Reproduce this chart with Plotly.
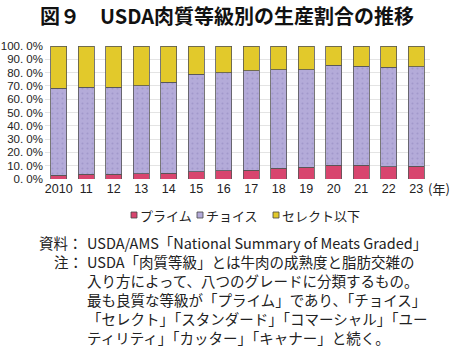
import plotly.graph_objects as go

years = ["2010", "11", "12", "13", "14", "15", "16", "17", "18", "19", "20", "21", "22", "23"]
prime = [3.0, 3.7, 3.5, 4.0, 4.2, 5.5, 6.2, 6.5, 8.2, 8.7, 10.5, 10.2, 9.2, 9.7]
choice = [65.1, 65.2, 65.4, 66.1, 68.6, 73.1, 73.6, 74.8, 74.1, 73.6, 75.0, 74.4, 74.9, 74.6]
select_below = [31.9, 31.1, 31.1, 29.9, 27.2, 21.4, 20.2, 18.7, 17.7, 17.7, 14.5, 15.4, 15.9, 15.7]
series_names = ["プライム", "チョイス", "セレクト以下"]
y_ticks = [0, 10, 20, 30, 40, 50, 60, 70, 80, 90, 100]
y_tick_labels = ["0. 0%", "10. 0%", "20. 0%", "30. 0%", "40. 0%", "50. 0%", "60. 0%",
                 "70. 0%", "80. 0%", "90. 0%", "100. 0%"]
colors = ["#D8456E", "#B4ABD9", "#E2C92B"]

FONT = "Noto Sans CJK JP"
NUMFONT = "Liberation Sans"
line = dict(color="#555555", width=0.8)

# plot area in pixels
L, R, T, B = 45, 430, 46, 179
W, H = 450, 357


def px(x):
    return (x - L) / (R - L)


def py(y):
    return (B - y) / (B - T)


fig = go.Figure()
fig.add_bar(x=years, y=prime, name=series_names[0],
            marker=dict(color=colors[0], line=line))
fig.add_bar(x=years, y=choice, name=series_names[1],
            marker=dict(color=colors[1], line=line,
                        pattern=dict(shape=".", fgcolor="#8F86BE", size=5, solidity=0.15)))
fig.add_bar(x=years, y=select_below, name=series_names[2],
            marker=dict(color=colors[2], line=line))

fig.update_layout(
    barmode="stack",
    bargap=0.42,
    width=W, height=H,
    margin=dict(l=L, r=W - R, t=T, b=H - B),
    paper_bgcolor="white", plot_bgcolor="white",
    font=dict(family=FONT, color="#222222"),
    showlegend=False,
    xaxis=dict(tickfont=dict(size=12.5, family=NUMFONT, color="#222222"), showgrid=False,
               ticks="", showline=False, tickangle=0, automargin=False),
    yaxis=dict(range=[0, 100], tickvals=y_ticks, ticktext=y_tick_labels,
               tickfont=dict(size=11.5, family=NUMFONT, color="#222222"), showgrid=True,
               gridcolor="#E4E4E4", gridwidth=1, zeroline=False, showline=False, ticks="",
               ticklabelstandoff=1, automargin=False),
)

anns = []
shapes = []
anns.append(dict(text="<b>図９　USDA肉質等級別の生産割合の推移</b>", xref="paper", yref="paper",
                 x=px(227), y=py(15), xanchor="center", yanchor="middle",
                 showarrow=False, font=dict(size=20, family=FONT, color="#111111")))
anns.append(dict(text="(年)", xref="paper", yref="paper", x=px(426),
                 y=py(188), xanchor="left", yanchor="middle", showarrow=False,
                 font=dict(size=13, family=FONT)))

# legend (manual, compact like the reference)
legend_sq_x = [131, 197, 273]
legend_y = 215
for name, col, sx in zip(series_names, colors, legend_sq_x):
    shapes.append(dict(type="rect", xref="paper", yref="paper",
                       x0=px(sx), x1=px(sx + 6), y0=py(legend_y + 3), y1=py(legend_y - 3),
                       fillcolor=col, line=dict(color="#444444", width=0.8)))
    anns.append(dict(text=name, xref="paper", yref="paper", x=px(sx + 7), y=py(legend_y),
                     xanchor="left", yanchor="middle", showarrow=False,
                     font=dict(size=13, family=FONT)))

note_lines = [
    ("資料：", "USDA/AMS「National Summary of Meats Graded」"),
    ("注：", "USDA「肉質等級」とは牛肉の成熟度と脂肪交雑の"),
    ("", "入り方によって、八つのグレードに分類するもの。"),
    ("", "最も良質な等級が「プライム」であり、「チョイス」"),
    ("", "「セレクト」「スタンダード」「コマーシャル」「ユー"),
    ("", "ティリティ」「カッター」「キャナー」と続く。"),
]
ys = [242.5, 261.5, 280.5, 299.5, 318.5, 337.5]
for (lab, txt), yy in zip(note_lines, ys):
    if lab:
        anns.append(dict(text=lab, xref="paper", yref="paper", x=px(85),
                         y=py(yy), xanchor="right", yanchor="middle",
                         showarrow=False, font=dict(size=14.5, family=FONT)))
    anns.append(dict(text=txt, xref="paper", yref="paper", x=px(85),
                     y=py(yy), xanchor="left", yanchor="middle",
                     showarrow=False, font=dict(size=14.5, family=FONT)))
fig.update_layout(annotations=anns, shapes=shapes)

fig.write_html("out.html",
               config={"displayModeBar": False},
               post_script="document.body.style.margin='0';document.body.style.overflow='hidden';")
